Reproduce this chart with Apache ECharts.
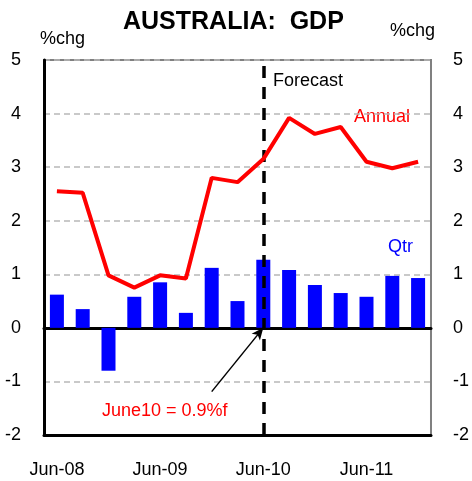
<!DOCTYPE html>
<html>
<head>
<meta charset="utf-8">
<script src="https://cdn.jsdelivr.net/npm/echarts@6/dist/echarts.min.js"></script>
<style>
  html, body { margin: 0; padding: 0; background: #fff; }
  #chart { width: 472px; height: 481px; }
</style>
</head>
<body>
<div id="chart"></div>
<script>
// quarters, Jun-08 .. Dec-11
const quarters = ['Jun-08', 'Sep-08', 'Dec-08', 'Mar-09', 'Jun-09', 'Sep-09', 'Dec-09', 'Mar-10',
                  'Jun-10', 'Sep-10', 'Dec-10', 'Mar-11', 'Jun-11', 'Sep-11', 'Dec-11'];
// quarterly % change (bars)
const qtrValues = [0.62, 0.35, -0.80, 0.58, 0.85, 0.28, 1.12, 0.50, 1.27, 1.08, 0.80, 0.65, 0.58, 0.97, 0.93];
// annual % change (line)
const annualValues = [2.55, 2.52, 0.98, 0.75, 0.98, 0.92, 2.80, 2.72, 3.15, 3.92, 3.62, 3.75, 3.10, 2.98, 3.10];
const yTicks = [-2, -1, 0, 1, 2, 3, 4, 5];

const font = 'Liberation Sans, Arial, sans-serif';
const myChart = echarts.init(document.getElementById('chart'));

const option = {
    animation: false,
    textStyle: { fontFamily: font },
    title: {
        text: 'AUSTRALIA:  GDP',
        left: 118,
        top: 5,
        textStyle: { fontSize: 25, fontWeight: 'bold', color: '#000', fontFamily: font }
    },
    grid: { left: 44, right: 39, top: 60, bottom: 46, show: true, borderColor: '#808080', borderWidth: 2 },
    xAxis: [
        {
            type: 'category',
            data: quarters,
            position: 'bottom',
            axisLine: { onZero: false, lineStyle: { color: '#000', width: 3 } },
            axisTick: { show: false },
            axisLabel: { interval: 3, color: '#000', fontSize: 18, margin: 26, fontFamily: font }
        },
        {
            type: 'category',
            data: quarters,
            position: 'bottom',
            axisLine: { onZero: true, lineStyle: { color: '#000', width: 3 } },
            axisTick: {
                inside: true, length: 5, lineStyle: { color: '#000', width: 1.5 },
                interval: function (i) { return i > 0 && i % 2 === 0; }
            },
            axisLabel: { show: false }
        }
    ],
    yAxis: [
        {
            type: 'value', min: yTicks[0], max: yTicks[yTicks.length - 1], interval: 1,
            axisLine: { show: true, lineStyle: { color: '#000', width: 3 } },
            axisTick: { show: false },
            axisLabel: { color: '#000', fontSize: 18, margin: 23, fontFamily: font },
            splitLine: { show: true, lineStyle: { color: '#b8b8b8', type: [6, 4], width: 1.5 } }
        },
        {
            type: 'value', min: yTicks[0], max: yTicks[yTicks.length - 1], interval: 1,
            position: 'right',
            axisLine: { show: true, lineStyle: { color: '#808080', width: 2 } },
            axisTick: { show: false },
            axisLabel: { color: '#000', fontSize: 18, margin: 22, fontFamily: font },
            splitLine: { show: false }
        }
    ],
    series: [
        {
            name: 'Qtr',
            type: 'bar',
            data: qtrValues,
            barWidth: 14,
            itemStyle: { color: '#0000ff' },
            markLine: {
                silent: true,
                symbol: ['none', 'arrow'],
                symbolSize: [8, 12],
                label: { show: false },
                lineStyle: { color: '#000', width: 1.5, type: 'solid' },
                data: [[{ coord: ['Dec-09', -1.19] }, { coord: ['Jun-10', 0] }]]
            }
        },
        {
            name: 'Annual',
            type: 'line',
            data: annualValues,
            symbol: 'none',
            lineStyle: { color: '#ff0000', width: 4 },
            z: 5,
            markLine: {
                silent: true,
                symbol: 'none',
                label: { show: false },
                lineStyle: { color: '#000', width: 3.5, type: [12, 9] },
                data: [{ xAxis: 'Jun-10' }]
            }
        }
    ],
    graphic: [
        { type: 'text', left: 40, top: 30, style: { text: '%chg', fontSize: 18, fill: '#000', fontFamily: font } },
        { type: 'text', left: 390, top: 22, style: { text: '%chg', fontSize: 18, fill: '#000', fontFamily: font } },
        { type: 'text', left: 273, top: 72, style: { text: 'Forecast', fontSize: 18, fill: '#000', fontFamily: font } },
        { type: 'text', left: 354, top: 108, style: { text: 'Annual', fontSize: 18, fill: '#ff0000', fontFamily: font } },
        { type: 'text', left: 388, top: 238, style: { text: 'Qtr', fontSize: 18, fill: '#0000ff', fontFamily: font } },
        { type: 'text', left: 102, top: 402, style: { text: 'June10 = 0.9%f', fontSize: 18, fill: '#ff0000', fontFamily: font } }
    ]
};
myChart.setOption(option);
</script>
</body>
</html>
